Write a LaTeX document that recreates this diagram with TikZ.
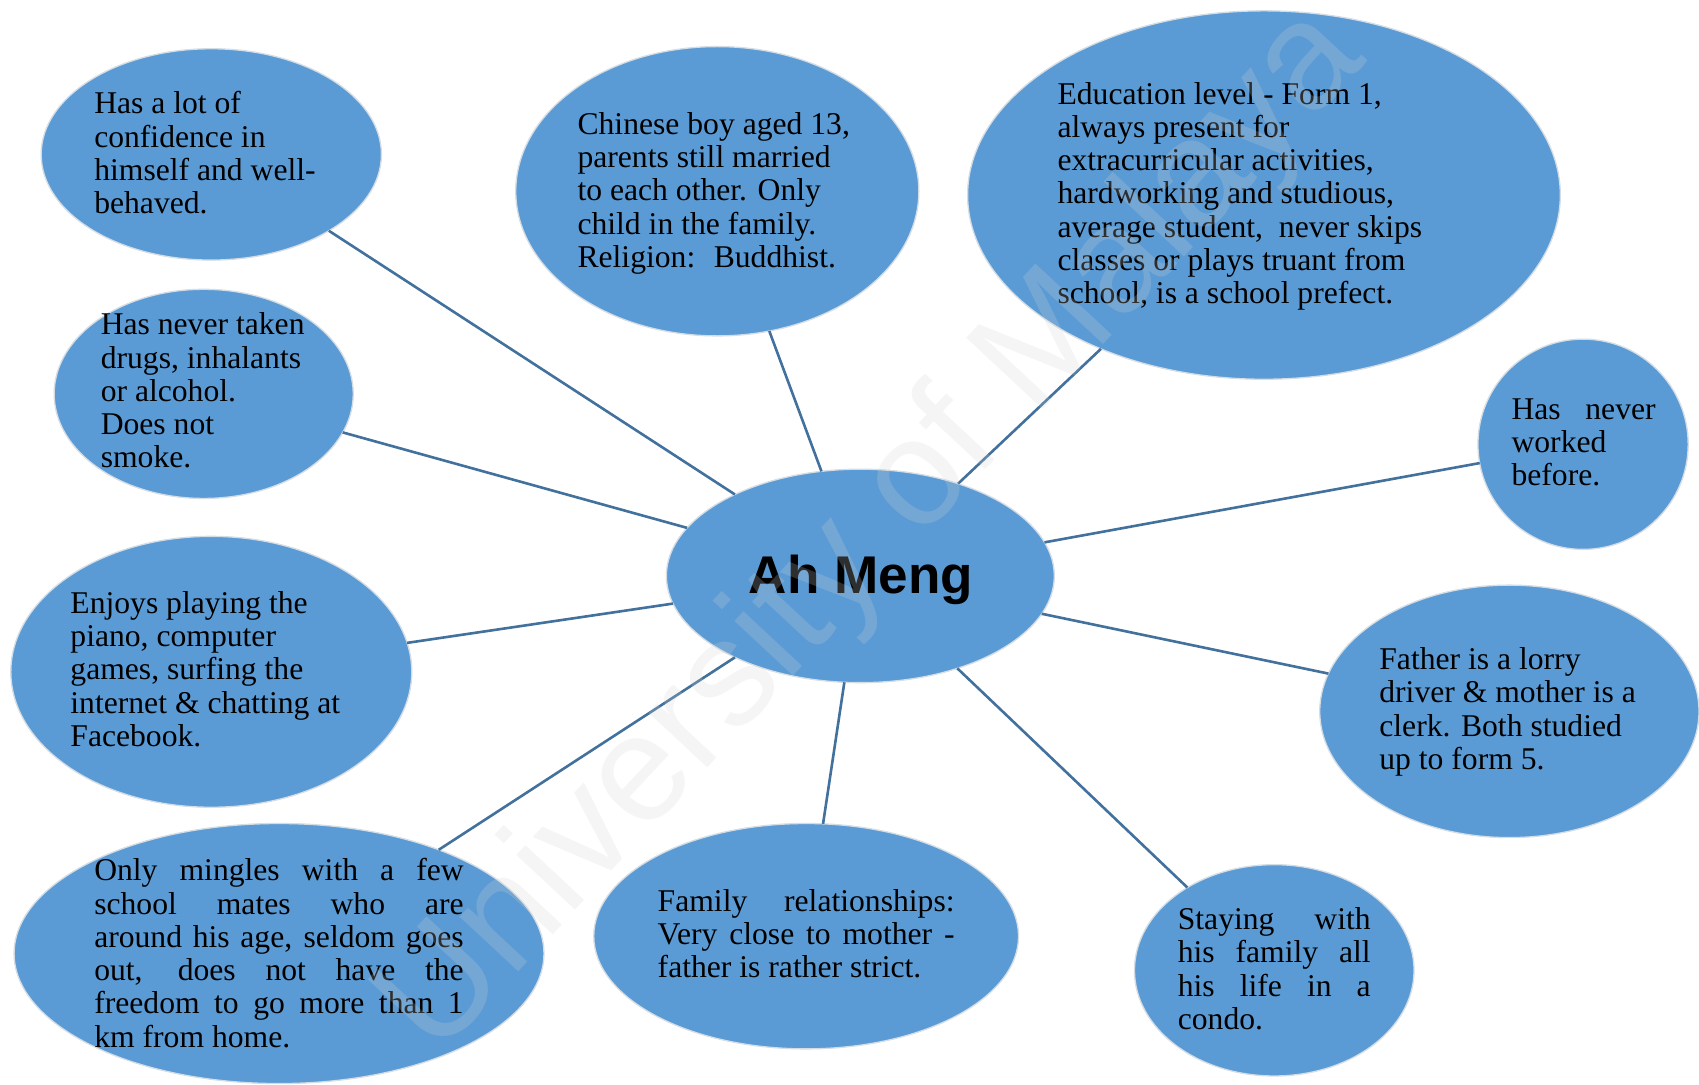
\documentclass[tikz,border=0pt]{standalone}
\usepackage{fontspec}
\setmainfont{Liberation Serif}
\newfontfamily\labelsans{Liberation Sans}
\usetikzlibrary{shapes.geometric}
\definecolor{bubblefill}{HTML}{5B9BD5}
\definecolor{bubbleedge}{HTML}{D4DCE4}
\definecolor{spoke}{HTML}{41719C}
\newcommand\firstline{\rule{0pt}{24pt}}
\newcommand\jline[2]{\makebox[#1pt][s]{#2}}
\begin{document}
\begin{tikzpicture}[x=1pt,y=-1pt,
  bubble/.style={ellipse, fill=bubblefill, draw=bubbleedge, line width=1.2pt,
    inner sep=0pt, outer sep=0pt},
  spokeline/.style={draw=spoke, line width=2.4pt},
  note/.style={anchor=north west, inner sep=0pt, outer sep=0pt, align=left,
    text=black, font={\fontsize{29.2}{30.7}\selectfont}},
  hub/.style={anchor=base, inner sep=0pt, text=black,
    font={\labelsans\bfseries\fontsize{49}{55}\selectfont}}
]
\useasboundingbox (0,0) rectangle (1568,1001);
\fill[white] (0,0) rectangle (1568,1001);

% bubbles
\node[bubble, minimum width=314, minimum height=195] (e1) at (195,142.5) {};
\node[bubble, minimum width=276, minimum height=193] (e2) at (188,363.5) {};
\node[bubble, minimum width=372, minimum height=267] (e3) at (662,176.5) {};
\node[bubble, minimum width=547, minimum height=340] (e4) at (1166.5,180) {};
\node[bubble, minimum width=194, minimum height=194] (e5) at (1461,410) {};
\node[bubble, minimum width=358, minimum height=197] (am) at (794,531.5) {};
\node[bubble, minimum width=370, minimum height=250] (e7) at (195,620) {};
\node[bubble, minimum width=489, minimum height=240] (e8) at (257.5,880) {};
\node[bubble, minimum width=392, minimum height=208] (e9) at (744,864) {};
\node[bubble, minimum width=258, minimum height=195] (e10) at (1176,895.5) {};
\node[bubble, minimum width=350, minimum height=233] (e11) at (1393,656.5) {};

% spokes from the centre bubble
\foreach \b in {e1,e2,e3,e4,e5,e7,e8,e9,e10,e11}
  \draw[spokeline] (\b) -- (am);

% texts
\node[hub] (amt) at (794.5,548) {Ah Meng};
\node[note] (t1) at (87,81) {\firstline Has a lot of\\confidence in\\himself and well-\\behaved.};
\node[note] (t2) at (93,285) {\firstline Has never taken\\drugs, inhalants\\or alcohol.\\Does not\\smoke.};
\node[note] (t3) at (533,100) {\firstline Chinese boy aged 13,\\parents still married\\to each other. Only\\child in the family.\\Religion:~ Buddhist.};
\node[note] (t4) at (976,72) {\firstline Education level - Form 1,\\always present for\\extracurricular activities,\\hardworking and studious,\\average student,~ never skips\\classes or plays truant from\\school, is a school prefect.};
\node[note] (t5) at (1395,363) {\firstline\jline{133}{Has never}\\worked\\before.};
\node[note] (t7) at (65,542) {\firstline Enjoys playing the\\piano, computer\\games, surfing the\\internet \& chatting at\\Facebook.};
\node[note] (t8) at (87,789) {\firstline\jline{341}{Only mingles with a few}\\\jline{341}{school mates who are}\\\jline{341}{around his age, seldom goes}\\\jline{341}{out, does not have the}\\\jline{341}{freedom to go more than 1}\\km from home.};
\node[note] (t9) at (607,817) {\firstline\jline{274}{Family relationships:}\\\jline{274}{Very close to mother -}\\father is rather strict.};
\node[note] (t10) at (1087,834) {\firstline\jline{178}{Staying with}\\\jline{178}{his family all}\\\jline{178}{his life in a}\\condo.};
\node[note] (t11) at (1273,594) {\firstline Father is a lorry\\driver \& mother is a\\clerk. Both studied\\up to form 5.};

% faint watermark across the page
\node[rotate=47, text=gray!35, opacity=0.22,
  font={\labelsans\fontsize{140}{140}\selectfont}] (wm) at (806,492) {University of Malaya};
\end{tikzpicture}
\end{document}
